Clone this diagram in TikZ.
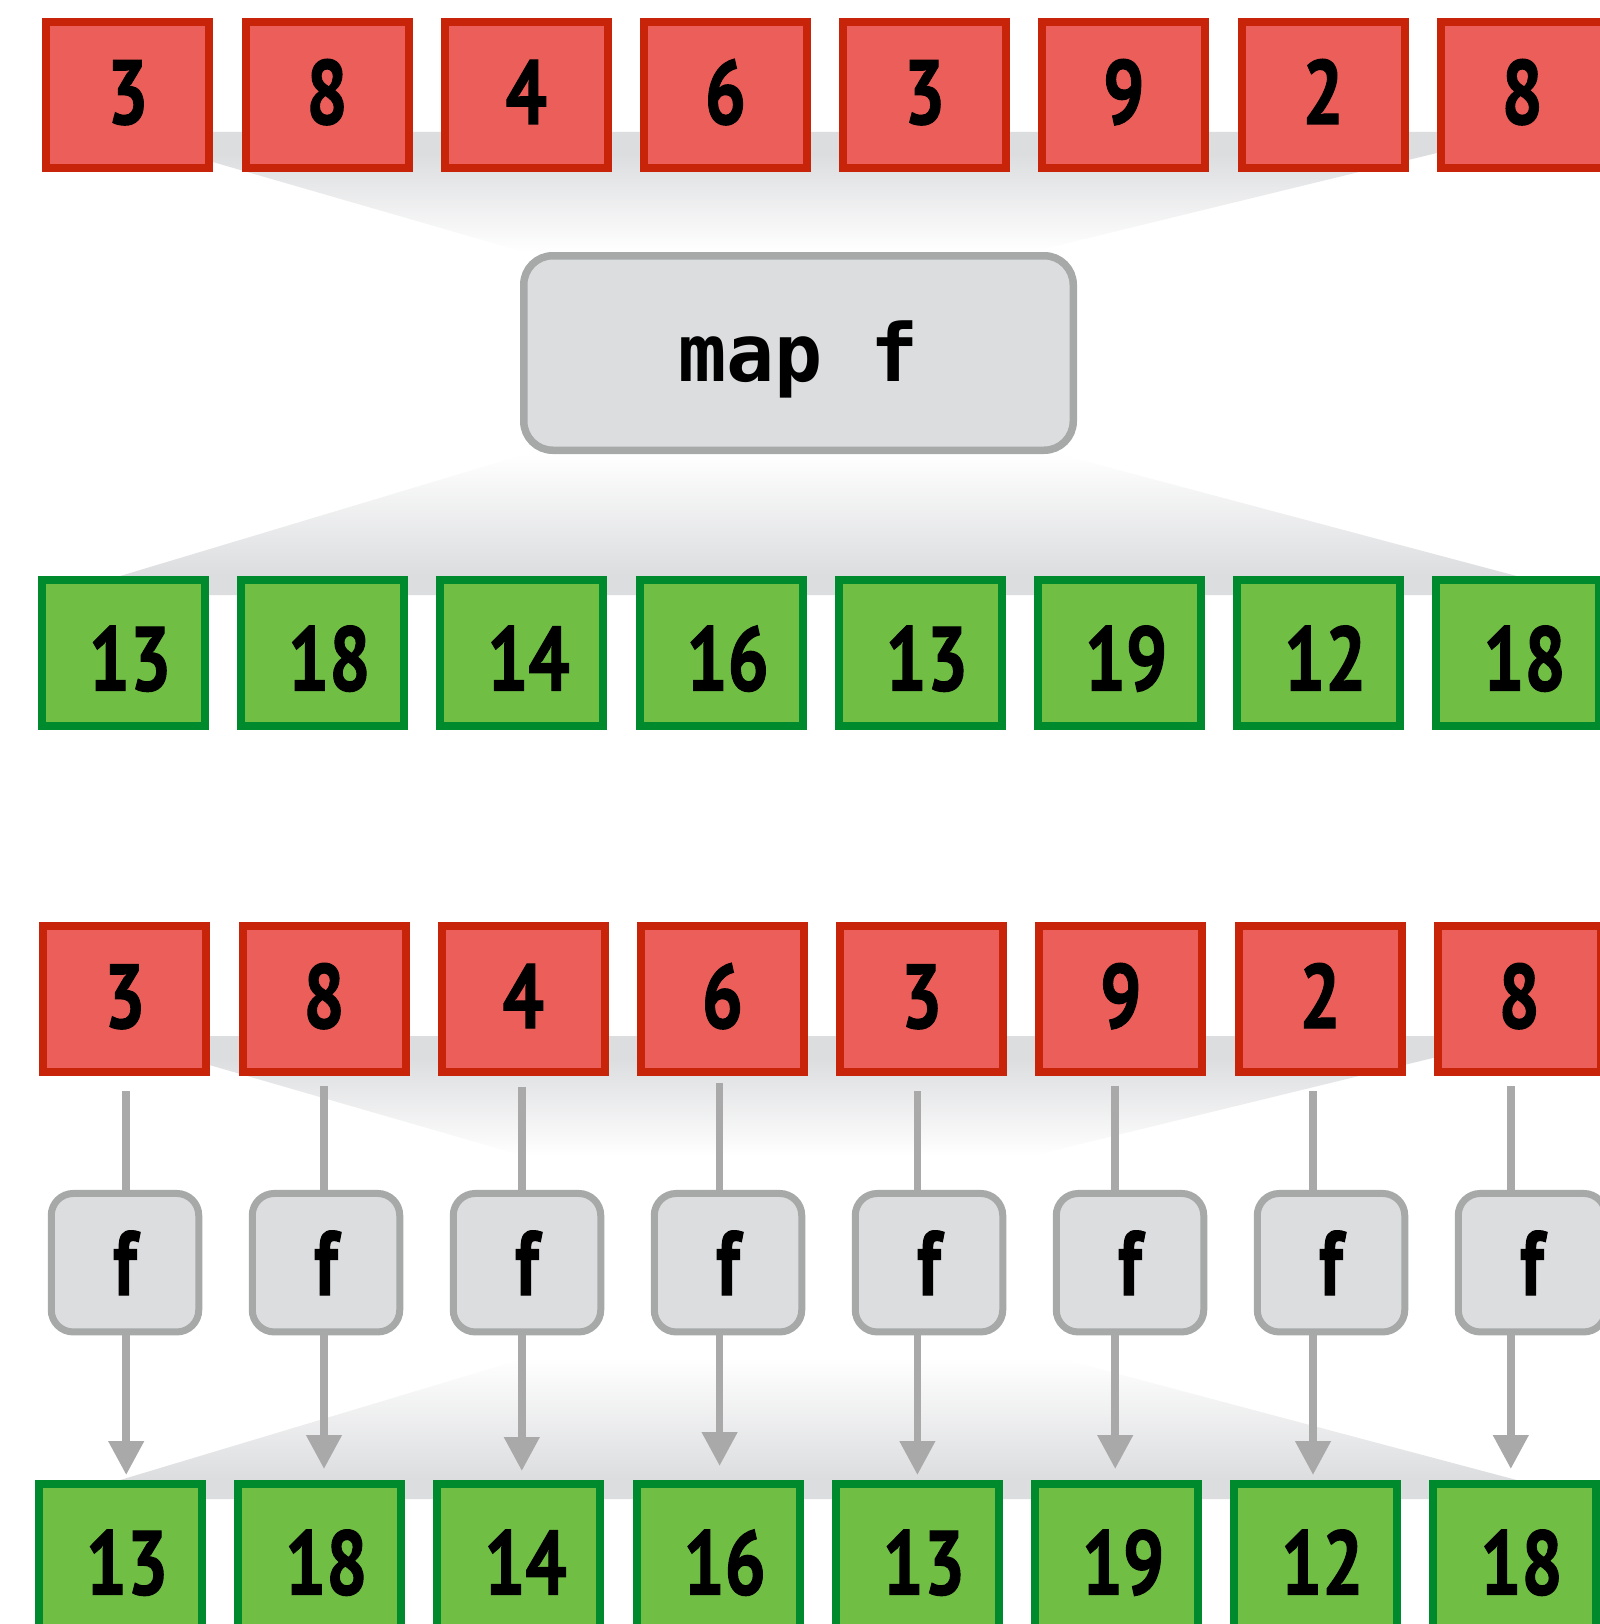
\documentclass[tikz,border=0pt]{standalone}
\usepackage{fontspec}
\usetikzlibrary{arrows.meta}
\newfontfamily\numfont{PT Sans}[FakeStretch=0.8,FakeBold=1.2]
\newfontfamily\codefont{DejaVu Sans Mono}
\definecolor{redfill}{RGB}{236,94,89}
\definecolor{redline}{RGB}{200,36,10}
\definecolor{greenfill}{RGB}{112,191,68}
\definecolor{greenline}{RGB}{0,138,46}
\definecolor{boxfill}{RGB}{220,221,223}
\definecolor{boxline}{RGB}{166,169,168}
\definecolor{bandgray}{RGB}{220,221,223}
\definecolor{arrowgray}{RGB}{169,169,169}
% TikZ fits a path into the middle 25bp--75bp of a shading
\pgfdeclareverticalshading{fadedown}{100bp}{color(0bp)=(white); color(25bp)=(white); color(66bp)=(bandgray); color(100bp)=(bandgray)}
\pgfdeclareverticalshading{fadeup}{100bp}{color(0bp)=(bandgray); color(32bp)=(bandgray); color(75bp)=(white); color(100bp)=(white)}
\tikzset{
  numbox/.style={line width=8pt, minimum width=163pt, minimum height=146pt, inner sep=0pt,
    font=\numfont\bfseries\fontsize{91pt}{91pt}\selectfont, text depth=0pt},
  redbox/.style={numbox, draw=redline, fill=redfill, text height=58pt},
  greenbox/.style={numbox, draw=greenline, fill=greenfill, text height=75pt,
    execute at begin node=\hspace*{13pt}},
  fbox/.style={draw=boxline, fill=boxfill, line width=7pt, rounded corners=22pt,
    minimum width=147.5pt, minimum height=138.5pt, inner sep=0pt,
    font=\numfont\bfseries\fontsize{91pt}{91pt}\selectfont, text height=64.6pt, text depth=0pt},
  mapbox/.style={draw=boxline, fill=boxfill, line width=7.5pt, rounded corners=29pt,
    minimum width=549.5pt, minimum height=194.5pt, inner sep=0pt,
    font=\codefont\bfseries\fontsize{80pt}{80pt}\selectfont, text height=57.4pt, text depth=0pt},
  conn/.style={draw=arrowgray, line width=7.5pt},
  tipconn/.style={conn, -{Triangle[width=34pt,length=34pt]}},
  funneldown/.style={shading=fadedown, draw=none},
  funnelup/.style={shading=fadeup, draw=none}
}
\begin{document}
\begin{tikzpicture}[x=1pt,y=-1pt]
\useasboundingbox (0,0) rectangle (1599,1624);
\fill[white] (0,0) rectangle (1599,1624);
% background funnels
\foreach \dy in {0,904} {
  \shade[funneldown] (109,132+\dy) -- (1523,132+\dy) -- (1031,252+\dy) -- (524,252+\dy) -- cycle;
  \shade[funnelup] (526,454+\dy) -- (1058,454+\dy) -- (1588,595+\dy) -- (57,595+\dy) -- cycle;
}
% rows
\foreach \v [count=\i from 0] in {3,8,4,6,3,9,2,8} {
  \node[redbox] (r\i) at ({127.8+199.2*\i},95) {\v};
  \node[redbox] (s\i) at ({124.8+199.2*\i},999) {\v};
}
\foreach \v [count=\i from 0] in {13,18,14,16,13,19,12,18} {
  \node[greenbox] (g\i) at ({123.5+199.2*\i},653) {\v};
  \node[greenbox] (h\i) at ({120.5+199.2*\i},1557) {\v};
}
% map box
\node[mapbox] (map) at (798.5,353) {map f};
% individual f boxes with arrows
\foreach \i/\top/\tip in {0/1091/1475,1/1086/1469,2/1087/1471,3/1083/1466,4/1091/1475,5/1086/1469,6/1091/1475,7/1086/1469} {
  \node[fbox] (f\i) at ({125+201*\i},1262.7) {f};
  \coordinate (a\i) at ({126.2+197.8*\i},\top);
  \coordinate (t\i) at ({126.2+197.8*\i},\tip);
  \draw[conn] (a\i) -- (a\i |- f\i.north);
  \draw[tipconn] (a\i |- f\i.south) -- (t\i);
}
\end{tikzpicture}
\end{document}
